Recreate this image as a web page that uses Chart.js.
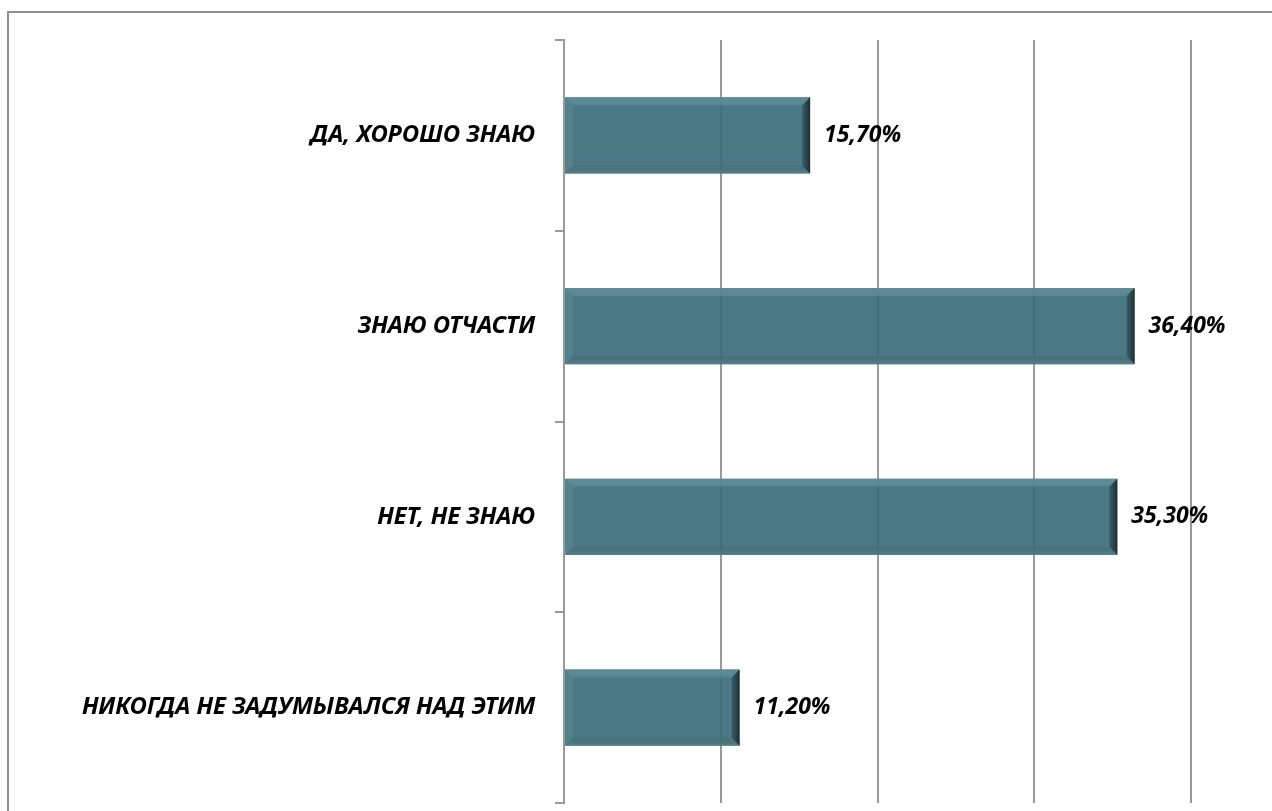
<!DOCTYPE html>
<html>
<head>
<meta charset="utf-8">
<script src="https://cdn.jsdelivr.net/npm/chart.js@4/dist/chart.umd.min.js"></script>
<style>
  html, body { margin: 0; padding: 0; background: #fff; overflow: hidden; }
  #wrap { position: relative; width: 1272px; height: 811px; }
  #frame {
    position: absolute; left: 7px; top: 11px; width: 2000px; height: 2000px;
    border-left: 2px solid #8f8f8f; border-top: 2px solid #8f8f8f;
  }
  canvas { position: absolute; left: 0; top: 0; }
</style>
</head>
<body>
<div id="wrap">
  <div id="frame"></div>
  <canvas id="chart" width="1272" height="811"></canvas>
</div>
<script>
// answers and their shares (percent)
const categories = ["ДА, ХОРОШО ЗНАЮ", "ЗНАЮ ОТЧАСТИ", "НЕТ, НЕ ЗНАЮ", "НИКОГДА НЕ ЗАДУМЫВАЛСЯ НАД ЭТИМ"];
const shares = [15.7, 36.4, 35.3, 11.2];
const xTicks = [0, 10, 20, 30, 40];

const fontFamily = "'Noto Sans', 'DejaVu Sans', sans-serif";
const gridColor = "#9a9a9a";

// fake the Excel bevel look on each bar
const bevelPlugin = {
  id: "bevel",
  afterDatasetsDraw(chart) {
    const ctx = chart.ctx;
    chart.getDatasetMeta(0).data.forEach((bar) => {
      const left = bar.base, right = bar.x;
      const top = bar.y - bar.height / 2, bottom = bar.y + bar.height / 2;
      const b = 8;
      ctx.save();
      // top edge
      let g = ctx.createLinearGradient(0, top, 0, top + b);
      g.addColorStop(0, "rgba(95,140,151,0.9)");
      g.addColorStop(1, "rgba(110,160,172,0.35)");
      ctx.fillStyle = g;
      ctx.beginPath();
      ctx.moveTo(left, top); ctx.lineTo(right, top);
      ctx.lineTo(right - b, top + b); ctx.lineTo(left + b, top + b);
      ctx.closePath(); ctx.fill();
      // left edge
      ctx.fillStyle = "rgba(100,145,156,0.35)";
      ctx.beginPath();
      ctx.moveTo(left, top); ctx.lineTo(left + b, top + b);
      ctx.lineTo(left + b, bottom - b); ctx.lineTo(left, bottom);
      ctx.closePath(); ctx.fill();
      // bottom edge
      g = ctx.createLinearGradient(0, bottom - b, 0, bottom);
      g.addColorStop(0, "rgba(60,95,104,0.3)");
      g.addColorStop(1, "rgba(95,130,138,0.8)");
      ctx.fillStyle = g;
      ctx.beginPath();
      ctx.moveTo(left, bottom); ctx.lineTo(left + b, bottom - b);
      ctx.lineTo(right - b, bottom - b); ctx.lineTo(right, bottom);
      ctx.closePath(); ctx.fill();
      // right edge
      g = ctx.createLinearGradient(right - b, 0, right, 0);
      g.addColorStop(0, "rgba(45,75,83,0.6)");
      g.addColorStop(1, "rgba(25,40,45,0.95)");
      ctx.fillStyle = g;
      ctx.beginPath();
      ctx.moveTo(right, top); ctx.lineTo(right, bottom);
      ctx.lineTo(right - b, bottom - b); ctx.lineTo(right - b, top + b);
      ctx.closePath(); ctx.fill();
      ctx.restore();
    });
  }
};

// value labels to the right of each bar, "15,70%" style
const valueLabels = {
  id: "valueLabels",
  afterDatasetsDraw(chart) {
    const ctx = chart.ctx;
    ctx.save();
    ctx.font = "italic bold 23px " + fontFamily;
    ctx.fillStyle = "#000";
    ctx.textBaseline = "middle";
    ctx.textAlign = "left";
    chart.getDatasetMeta(0).data.forEach((bar, i) => {
      const txt = shares[i].toFixed(2).replace(".", ",") + "%";
      ctx.fillText(txt, bar.x + 14, bar.y);
    });
    ctx.restore();
  }
};

new Chart(document.getElementById("chart"), {
  type: "bar",
  data: {
    labels: categories,
    datasets: [{
      data: shares,
      backgroundColor: "rgba(59,110,123,0.92)",
      borderWidth: 0,
      categoryPercentage: 1,
      barPercentage: 0.4
    }]
  },
  options: {
    indexAxis: "y",
    responsive: false,
    animation: false,
    layout: { padding: { top: 40, right: 81, bottom: 8, left: 0 } },
    plugins: { legend: { display: false }, tooltip: { enabled: false } },
    scales: {
      x: {
        min: xTicks[0],
        max: xTicks[xTicks.length - 1],
        afterBuildTicks: (scale) => { scale.ticks = xTicks.map((v) => ({ value: v })); },
        afterFit: (scale) => { scale.height = 0; scale.paddingLeft = 0; scale.paddingRight = 0; },
        ticks: { display: false },
        border: { display: false },
        grid: { color: (c) => (c.tick && c.tick.value === 0 ? "rgba(0,0,0,0)" : gridColor), lineWidth: 2, drawTicks: false }
      },
      y: {
        afterFit: (scale) => { scale.width = 564; scale.paddingTop = 0; scale.paddingBottom = 0; },
        border: { display: true, color: gridColor, width: 2 },
        grid: { drawOnChartArea: false, color: gridColor, lineWidth: 2, tickLength: 9, offset: true },
        ticks: {
          padding: 20,
          color: "#000",
          font: { family: fontFamily, size: 24, style: "italic", weight: "bold" }
        }
      }
    }
  },
  plugins: [bevelPlugin, valueLabels]
});
</script>
</body>
</html>
